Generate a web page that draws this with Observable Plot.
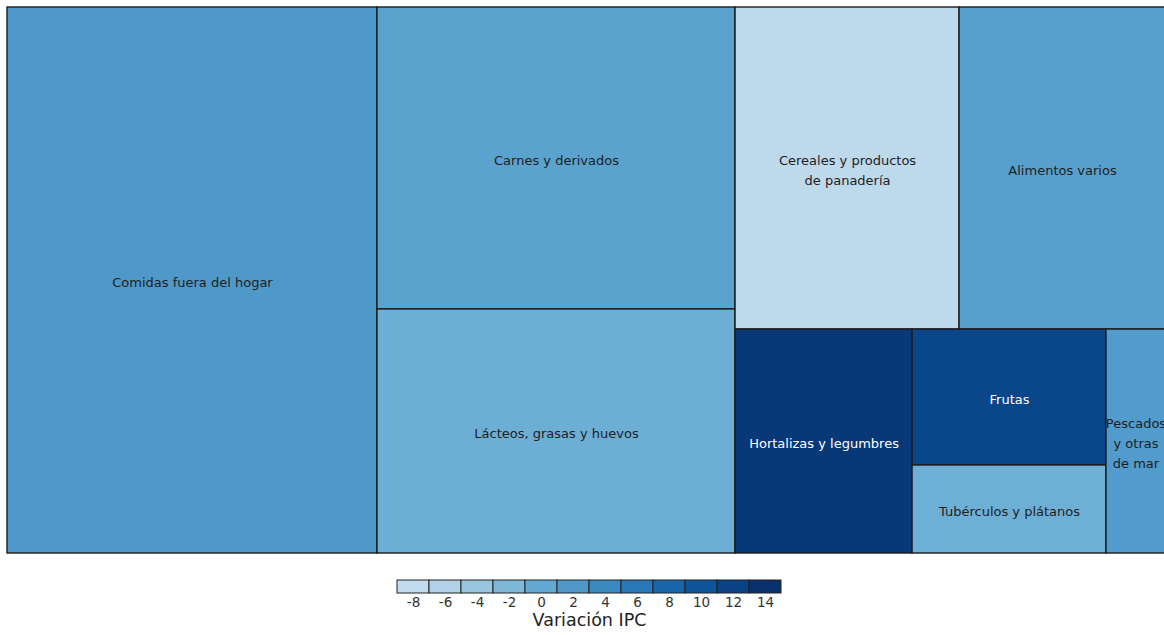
<!DOCTYPE html>
<html><head><meta charset="utf-8">
<script src="https://cdn.jsdelivr.net/npm/d3@7"></script>
<script src="https://cdn.jsdelivr.net/npm/@observablehq/plot@0.6"></script>
<style>
html,body{margin:0;padding:0;background:#fff;overflow:hidden;}
#chart svg,#legend svg{display:block;}
</style></head><body>
<div id="chart"></div><div id="legend"></div>
<script>
const categorias = ["Comidas fuera del hogar","Carnes y derivados","Lácteos, grasas y huevos","Cereales y productos de panadería","Alimentos varios","Hortalizas y legumbres","Frutas","Tubérculos y plátanos","Pescados y otras de mar"];
const etiquetas = ["Comidas fuera del hogar","Carnes y derivados","Lácteos, grasas y huevos","Cereales y productos\nde panadería","Alimentos varios","Hortalizas y legumbres","Frutas","Tubérculos y plátanos","Pescados\ny otras\nde mar"];
const ponderacion = [31.95,17.10,13.82,11.41,10.49,6.27,4.17,2.70,2.09];
const variacion = [2.0,0.8,-0.7,-7.4,1.2,13.1,11.6,-0.8,1.7];
const legendaTicks = [-8,-6,-4,-2,0,2,4,6,8,10,12,14];

const rows = categorias.map((c,i)=>({categoria:c, etiqueta:etiquetas[i], ponderacion:ponderacion[i], variacion:variacion[i]}));
const W = 1158, H = 546;
const root = d3.hierarchy({children: rows}).sum(d => d.ponderacion ?? 0).sort((a,b) => b.value - a.value);
d3.treemap().tile(d3.treemapSquarify.ratio(1.25)).size([W, H])(root);
const tiles = root.leaves().map(n => ({...n.data, x0:n.x0, x1:n.x1, y0:n.y0, y1:n.y1}));

const color = {type:"linear", domain:[-8,14], interpolate: t => d3.interpolateBlues(0.25 + 0.75*t)};

const chart = Plot.plot({
  width:1164, height:560,
  x:{domain:[0,W], range:[7,7+W], axis:null},
  y:{domain:[0,H], range:[7,7+H], axis:null},
  color,
  style:{fontFamily:"DejaVu Sans", background:"white"},
  marks:[
    Plot.rect(tiles,{x1:"x0", x2:"x1", y1:"y0", y2:"y1", fill:"variacion", stroke:"#1c1c1c", strokeWidth:1.4}),
    Plot.text(tiles,{filter:d => d.variacion <= 8, x:d => (d.x0+d.x1)/2, y:d => (d.y0+d.y1)/2, text:"etiqueta", fill:"#1e1e1e", fontSize:13, lineHeight:1.55}),
    Plot.text(tiles,{filter:d => d.variacion > 8, x:d => (d.x0+d.x1)/2, y:d => (d.y0+d.y1)/2, text:"etiqueta", fill:"white", fontSize:13, lineHeight:1.55})
  ]
});
document.getElementById("chart").append(chart);

const legend = Plot.plot({
  width:1164, height:75, marginTop:20, marginBottom:42, marginLeft:396, marginRight:382,
  x:{type:"band", domain:legendaTicks, padding:0},
  color,
  style:{fontFamily:"DejaVu Sans", color:"#333", background:"white"},
  marks:[
    Plot.cell(legendaTicks,{x:d => d, fill:d => d, stroke:"#222", strokeWidth:1}),
    Plot.axisX({tickSize:0, tickPadding:4, fontSize:13.5, tickFormat:d => String(d), label:null}),
    Plot.text(["Variación IPC"],{frameAnchor:"bottom", dy:32, fontSize:17.5, fill:"#222"})
  ]
});
document.getElementById("legend").append(legend);
</script>
</body></html>
